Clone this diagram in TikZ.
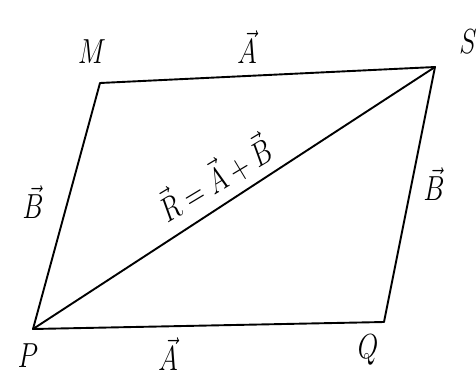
\documentclass[tikz,border=0pt]{standalone}
\newcommand{\hw}[1]{\scalebox{2.2}[2.9]{$#1$}}
\newcommand{\hwr}[1]{\scalebox{2.2}[2.8]{$#1$}}
\begin{document}
\begin{tikzpicture}[x=1pt,y=-1pt,
  edge/.style={line width=1.9pt,line join=round,line cap=round},
  lbl/.style={font=\large,inner sep=0pt}]
\useasboundingbox (0,0) rectangle (476,381);
\fill[white] (0,0) rectangle (476,381);
\coordinate (P) at (33,329);
\coordinate (Q) at (384,322);
\coordinate (S) at (435,67);
\coordinate (M) at (100,83);
\draw[edge] (P) -- (Q) -- (S) -- (M) -- cycle;
\draw[edge] (P) -- (S);
\node[lbl] (lM) at (92,52) {\hw{M}};
\node[lbl] (lAt) at (247,47) {\hw{\vec{A}}};
\node[lbl] (lS) at (468,42) {\hw{S}};
\node[lbl] (lBl) at (33,202) {\hw{\vec{B}}};
\node[lbl] (lBr) at (434,184) {\hw{\vec{B}}};
\node[lbl,rotate=31] (lR) at (214,178) {\hwr{\vec{R}=\vec{A}+\vec{B}}};
\node[lbl] (lP) at (28,356) {\hw{P}};
\node[lbl] (lAb) at (168,354) {\hw{\vec{A}}};
\node[lbl] (lQ) at (368,350) {\hw{Q}};
\end{tikzpicture}
\end{document}
